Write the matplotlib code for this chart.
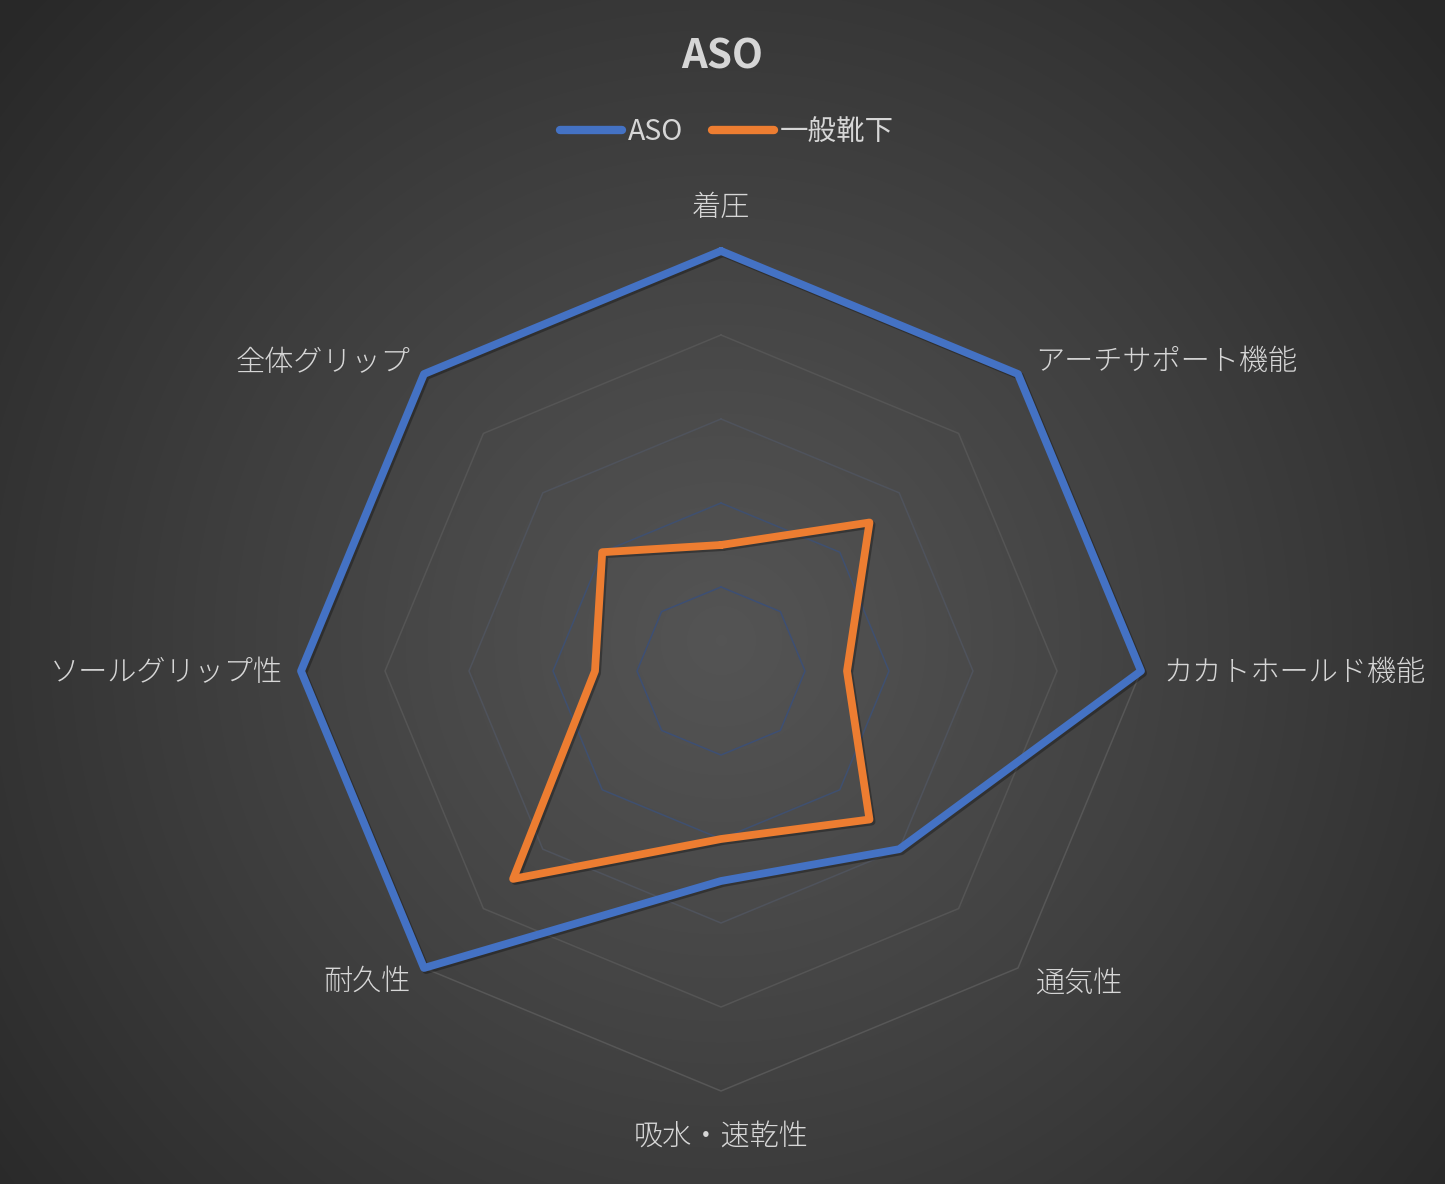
import numpy as np
import matplotlib
matplotlib.use("Agg")
import matplotlib.pyplot as plt
import matplotlib.patheffects as pe

plt.rcParams["font.family"] = ["Noto Sans CJK JP", "DejaVu Sans"]

categories = ["着圧", "アーチサポート機能", "カカトホールド機能", "通気性",
              "吸水・速乾性", "耐久性", "ソールグリップ性", "全体グリップ"]
aso = [5, 5, 5, 3, 2.5, 5, 5, 5]
ippan = [1.5, 2.5, 1.5, 2.5, 2.0, 3.5, 1.5, 2.0]
series_names = ["ASO", "一般靴下"]
grid_levels = [1, 2, 3, 4, 5]

W, H, DPI = 1445, 1184, 100
CX, CY, UNIT = 721, 671, 84.0   # chart centre (px) and px per value unit

fig = plt.figure(figsize=(W / DPI, H / DPI), dpi=DPI)

# radial gradient background
bg = fig.add_axes([0, 0, 1, 1])
yy, xx = np.mgrid[0:H, 0:W]
d = np.hypot(xx - CX, yy - 640) / np.hypot(W / 2, H / 2)
shade = 0.33 - 0.17 * np.clip(d, 0, 1) ** 1.1
bg.imshow(np.dstack([shade] * 3), extent=[0, W, H, 0], aspect="auto")
bg.axis("off")

ax = fig.add_axes([0, 0, 1, 1], facecolor="none")
ax.set_xlim(-CX / UNIT, (W - CX) / UNIT)
ax.set_ylim(-(H - CY) / UNIT, CY / UNIT)
ax.axis("off")

n = len(categories)
ang = np.pi / 2 - np.arange(n) * 2 * np.pi / n
ang_c = np.append(ang, ang[0])


def ring(vals):
    v = np.append(vals, vals[0])
    return v * np.cos(ang_c), v * np.sin(ang_c)


grid_colors = ["#3d4f74", "#3f5070", "#4f535c", "#555555", "#575757"]
for lev, gc in zip(grid_levels, grid_colors):
    x, y = ring(np.full(n, lev))
    ax.plot(x, y, color=gc, lw=1.1, zorder=1)

shadow = [pe.SimpleLineShadow(offset=(1.5, -1.5), shadow_color="black", alpha=0.3),
          pe.Normal()]
colors = ["#4472C4", "#ED7D31"]
for vals, c, name in zip([aso, ippan], colors, series_names):
    x, y = ring(vals)
    ax.plot(x, y, color=c, lw=5.6, solid_joinstyle="round",
            solid_capstyle="round", zorder=3, label=name, path_effects=shadow)

# category labels
lab_r = 5.0
offsets = {
    0: (0, 0.52, "center", "center"),
    1: (0.2, 0.15, "left", "center"),
    2: (0.27, -0.02, "left", "center"),
    3: (0.2, -0.18, "left", "center"),
    4: (0, -0.54, "center", "center"),
    5: (-0.16, -0.16, "right", "center"),
    6: (-0.22, -0.02, "right", "center"),
    7: (-0.16, 0.13, "right", "center"),
}
for i, cat in enumerate(categories):
    dx, dy, ha, va = offsets[i]
    ax.text(lab_r * np.cos(ang[i]) + dx, lab_r * np.sin(ang[i]) + dy, cat,
            ha=ha, va=va, fontsize=21, color="#d6d6d6", fontweight="light")

fig.text(0.5, 1 - 57 / H, "ASO", ha="center", va="center", fontsize=29,
         fontweight="bold", color="#d6d6d6")

leg = ax.legend(loc="center", bbox_to_anchor=(0.503, 1 - 132 / H), ncol=2,
                frameon=False, fontsize=20.5, handlelength=2.2,
                handletextpad=0.2, columnspacing=1.0,
                bbox_transform=fig.transFigure)
for t in leg.get_texts():
    t.set_color("#d6d6d6")
for h in leg.get_lines():
    h.set_path_effects([])
    h.set_linewidth(6)
    h.set_solid_capstyle("round")

fig.savefig("out.png", dpi=DPI)
